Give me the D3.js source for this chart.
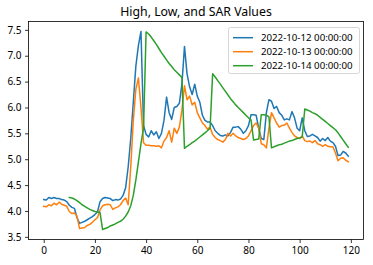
<!DOCTYPE html>
<html>
<head>
<meta charset="utf-8">
<script src="https://cdn.jsdelivr.net/npm/d3@7"></script>
<style>
  body { margin: 0; background: #fff; }
  svg { display: block; font-family: "Noto Sans", sans-serif; }
</style>
</head>
<body>
<svg id="chart" width="373" height="265"></svg>
<script>
// values
const seriesNames = ["2022-10-12 00:00:00", "2022-10-13 00:00:00", "2022-10-14 00:00:00"];
const colors = ["#1f77b4", "#ff7f0e", "#2ca02c"];
const xTicks = [0, 20, 40, 60, 80, 100, 120];
const yTicks = [3.5, 4.0, 4.5, 5.0, 5.5, 6.0, 6.5, 7.0, 7.5];

const high = [
  4.22, 4.21, 4.26, 4.24, 4.26, 4.24, 4.24, 4.22, 4.21, 4.18,
  4.11, 4.07, 4.05, 3.87, 3.76, 3.78, 3.80, 3.83, 3.86, 3.89,
  3.93, 3.98, 4.18, 4.24, 4.26, 4.25, 4.24, 4.20, 4.22, 4.21,
  4.23, 4.30, 4.45, 4.85, 5.40, 6.10, 6.80, 7.20, 7.47, 5.65,
  5.48, 5.43, 5.55, 5.47, 5.53, 5.40, 5.50, 5.75, 6.20, 5.90,
  5.77, 6.00, 6.02, 6.08, 6.45, 7.18, 6.65, 6.40, 6.25, 6.45,
  6.22, 6.10, 5.85, 5.75, 5.72, 5.72, 5.65, 5.55, 5.50, 5.46,
  5.45, 5.47, 5.45, 5.52, 5.62, 5.62, 5.63, 5.58, 5.50, 5.55,
  5.65, 5.86, 5.86, 5.85, 5.60, 5.40, 5.38, 5.90, 6.15, 6.12,
  5.98, 6.02, 5.90, 5.85, 5.76, 5.78, 5.76, 5.92, 5.80, 5.60,
  5.55, 5.80, 5.55, 5.44, 5.45, 5.48, 5.45, 5.42, 5.35, 5.40,
  5.36, 5.42, 5.35, 5.32, 5.25, 5.07, 5.08, 5.15, 5.12, 5.06
];

const low = [
  4.09, 4.08, 4.12, 4.10, 4.15, 4.12, 4.17, 4.13, 4.11, 4.09,
  3.99, 3.95, 3.96, 3.90, 3.66, 3.67, 3.68, 3.72, 3.74, 3.78,
  3.83, 3.87, 4.02, 4.10, 4.12, 4.13, 4.12, 4.03, 4.06, 4.08,
  4.12, 4.20, 4.25, 4.12, 4.85, 5.75, 6.35, 6.57, 6.00, 5.32,
  5.27, 5.27, 5.26, 5.26, 5.25, 5.26, 5.22, 5.35, 5.42, 5.55,
  5.33, 5.60, 5.50, 5.62, 5.95, 6.42, 6.15, 6.22, 6.05, 6.10,
  5.90, 5.80, 5.70, 5.65, 5.58, 5.62, 5.48, 5.42, 5.38, 5.36,
  5.33, 5.38, 5.50, 5.45, 5.50, 5.45, 5.42, 5.40, 5.38, 5.40,
  5.45, 5.55, 5.65, 5.70, 5.60, 5.30, 5.28, 5.22, 5.60, 5.90,
  5.80, 5.70, 5.62, 5.65, 5.66, 5.70, 5.60, 5.52, 5.45, 5.42,
  5.40, 5.45, 5.36, 5.34, 5.35, 5.32, 5.36, 5.30, 5.28, 5.25,
  5.28, 5.25, 5.24, 5.24, 5.12, 4.97, 5.02, 5.03, 4.98, 4.95
];

const sar = [
  null, null, null, null, null, null, null, null, null, null,
  4.26, 4.25, 4.23, 4.20, 4.16, 4.12, 4.09, 4.06, 4.03, 4.01,
  3.99, 3.98, 3.97, 3.64, 3.66, 3.68, 3.71, 3.73, 3.75, 3.78,
  3.80, 3.84, 3.90, 3.98, 4.10, 4.30, 4.60, 4.95, 5.30, 5.60,
  7.46, 7.42, 7.36, 7.29, 7.22, 7.14, 7.06, 6.99, 6.92, 6.85,
  6.79, 6.73, 6.68, 6.63, 6.58, 5.21, 5.25, 5.28, 5.32, 5.35,
  5.39, 5.43, 5.47, 5.51, 5.55, 5.60, 6.65, 6.59, 6.52, 6.45,
  6.38, 6.31, 6.24, 6.17, 6.11, 6.05, 6.00, 5.95, 5.90, 5.85,
  5.80, 5.76, 5.37, 5.38, 5.39, 5.86, 5.86, 5.85, 5.82, 5.22,
  5.24, 5.26, 5.28, 5.29, 5.31, 5.33, 5.35, 5.36, 5.38, 5.40,
  5.41, 5.43, 5.97, 5.95, 5.93, 5.90, 5.88, 5.85, 5.81, 5.77,
  5.73, 5.69, 5.65, 5.61, 5.57, 5.51, 5.44, 5.37, 5.30, 5.23
];

const allSeries = [high, low, sar];

const mLeft = 28.5, mRight = 363.5, mTop = 21.5, mBottom = 239.5;
const svg = d3.select("#chart");

const n = high.length;
const xPad = (n - 1) * 0.05;
const x = d3.scaleLinear()
  .domain([-xPad, n - 1 + xPad])
  .range([mLeft, mRight]);

const vals = allSeries.flat().filter(v => v != null);
const yMin = d3.min(vals), yMax = d3.max(vals);
const yPad = (yMax - yMin) * 0.05;
const y = d3.scaleLinear()
  .domain([yMin - yPad, yMax + yPad])
  .range([mBottom, mTop]);

// lines
const line = d3.line()
  .defined(d => d != null)
  .x((d, i) => x(i))
  .y(d => y(d));

svg.append("g")
  .selectAll("path")
  .data(allSeries)
  .enter()
  .append("path")
  .attr("d", d => line(d))
  .attr("fill", "none")
  .attr("stroke", (d, i) => colors[i])
  .attr("stroke-width", 1.5)
  .attr("stroke-linejoin", "round")
  .attr("stroke-linecap", "square");

// axes
const xAxis = svg.append("g")
  .attr("transform", "translate(0," + mBottom + ")")
  .call(d3.axisBottom(x).tickValues(xTicks).tickFormat(d3.format("d"))
    .tickSizeInner(3.5).tickSizeOuter(0).tickPadding(3.5));

const yAxis = svg.append("g")
  .attr("transform", "translate(" + mLeft + ",0)")
  .call(d3.axisLeft(y).tickValues(yTicks).tickFormat(d3.format(".1f"))
    .tickSizeInner(3.5).tickSizeOuter(0).tickPadding(3.5));

[xAxis, yAxis].forEach(g => {
  g.select(".domain").remove();
  g.selectAll(".tick line").attr("stroke", "#000").attr("stroke-width", 0.8);
  g.selectAll(".tick text")
    .attr("fill", "#000")
    .style("font-size", "10px")
    .style("font-family", "Noto Sans, sans-serif");
});

// frame
svg.append("rect")
  .attr("x", mLeft)
  .attr("y", mTop)
  .attr("width", mRight - mLeft)
  .attr("height", mBottom - mTop)
  .attr("fill", "none")
  .attr("stroke", "#000")
  .attr("stroke-width", 0.8);

// title
svg.append("text")
  .attr("x", (mLeft + mRight) / 2)
  .attr("y", 16)
  .attr("text-anchor", "middle")
  .style("font-size", "12.3px")
  .text("High, Low, and SAR Values");

// legend
const legend = svg.append("g");
legend.append("rect")
  .attr("x", 228.5)
  .attr("y", 27.5)
  .attr("width", 131)
  .attr("height", 46)
  .attr("rx", 2)
  .attr("fill", "#fff")
  .attr("fill-opacity", 0.8)
  .attr("stroke", "#ccc")
  .attr("stroke-width", 0.8);

const rows = legend.selectAll("g.row")
  .data(seriesNames)
  .enter()
  .append("g")
  .attr("class", "row")
  .attr("transform", (d, i) => "translate(0," + (37.7 + i * 14) + ")");

rows.append("line")
  .attr("x1", 233)
  .attr("x2", 253)
  .attr("stroke", (d, i) => colors[i])
  .attr("stroke-width", 1.5);

rows.append("text")
  .attr("x", 261)
  .attr("dy", "0.35em")
  .style("font-size", "9.7px")
  .text(d => d);
</script>
</body>
</html>
